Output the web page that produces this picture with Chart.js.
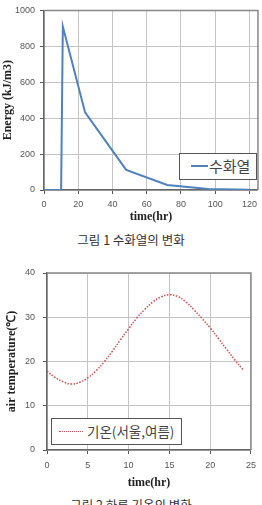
<!DOCTYPE html>
<html>
<head>
<meta charset="utf-8">
<script src="https://cdn.jsdelivr.net/npm/chart.js@4/dist/chart.umd.min.js"></script>
<style>
  body { margin: 0; background: #fff; }
  #page { position: relative; width: 262px; height: 505px; overflow: hidden; }
  canvas { position: absolute; left: 0; }
  .caption { position: absolute; left: 0; width: 262px; text-align: center; font: 12.5px "Noto Sans CJK KR", sans-serif; color: #333; }
  .legend { position: absolute; box-sizing: border-box; border: 1.5px solid #555; background: #fff;
            font-family: "Noto Sans CJK KR", sans-serif; color: #444; }
  .legend span { position: absolute; }
</style>
</head>
<body>
<div id="page">
  <canvas id="heatChart" width="262" height="230" style="top:0"></canvas>
  <div class="caption" style="top:230px">그림 1 수화열의 변화</div>
  <div class="legend" style="left:179px;top:153px;width:78px;height:27px;font-size:15px">
    <span style="left:11px;top:11px;width:17px;border-top:2px solid #4F81BD"></span>
    <span style="left:29px;top:1px;line-height:22px">수화열</span>
  </div>

  <canvas id="tempChart" width="262" height="240" style="top:255px"></canvas>
  <div class="legend" style="left:51px;top:418px;width:131px;height:27px;font-size:13.5px">
    <span style="left:7px;top:12px;width:24px;border-top:1.5px dotted #C0504D"></span>
    <span style="left:35px;top:1px;line-height:22px">기온(서울,여름)</span>
  </div>
  <div class="caption" style="top:495px">그림 2 하루 기온의 변화</div>
</div>
<script>
// 그림 1: 수화열
const heatHours = [0, 10, 11, 24, 48, 72, 96, 120];
const heatEnergy = [0, 0, 910, 432, 112, 28, 6, 1];
const heatTicksX = [0, 20, 40, 60, 80, 100, 120];

// 그림 2: 기온 (서울, 여름)
const tempHours = [0, 1, 2, 3, 4, 5, 6, 7, 8, 9, 10, 11, 12, 13, 14, 15, 16, 17, 18, 19, 20, 21, 22, 23, 24];
const tempValues = [17.8, 16.4, 15.4, 14.9, 15.3, 16.3, 17.9, 19.9, 22.3, 24.9, 27.4, 29.8, 31.8, 33.5, 34.6, 35.1, 34.7, 33.5, 31.7, 29.7, 27.6, 25.2, 22.8, 20.4, 18.2];
const tempTicksX = [0, 5, 10, 15, 20, 25];

const tickFont = { family: 'Liberation Sans', size: 9 };
const titleFont = { family: 'Liberation Serif', size: 12, weight: 'bold' };

// solid grey frame on top and right of the plot area
const framePlugin = {
    id: 'frame',
    afterDraw(chart) {
        const { ctx, chartArea: a } = chart;
        ctx.save();
        ctx.strokeStyle = '#888';
        ctx.lineWidth = 1.5;
        ctx.beginPath();
        ctx.moveTo(a.left, a.top);
        ctx.lineTo(a.right, a.top);
        ctx.lineTo(a.right, a.bottom);
        ctx.stroke();
        ctx.restore();
    }
};

function gridOpts() {
    return {
        color: '#c4c4c4',
        borderDash: [2, 2],
        tickLength: 4,
        tickColor: '#555',
        tickBorderDash: [],
        tickWidth: 1
    };
}

function makeChart(id, opts) {
    const points = opts.xs.map((x, i) => ({ x: x, y: opts.ys[i] }));
    return new Chart(document.getElementById(id), {
        type: 'line',
        data: {
            datasets: [{
                data: points,
                borderColor: opts.color,
                borderWidth: opts.width,
                borderDash: opts.dash,
                pointRadius: 0,
                tension: opts.tension,
                fill: false
            }]
        },
        options: {
            responsive: false,
            animation: false,
            devicePixelRatio: 1,
            layout: { padding: { top: opts.top, right: opts.right, left: 0, bottom: 0 } },
            plugins: { legend: { display: false }, tooltip: { enabled: false } },
            scales: {
                x: {
                    type: 'linear',
                    min: 0,
                    max: opts.xMax,
                    grid: gridOpts(),
                    border: { color: '#666', width: 1.5 },
                    ticks: { font: tickFont, color: '#555', padding: opts.xPad, maxRotation: 0, callback: v => String(v) },
                    afterBuildTicks: (scale) => {
                        scale.ticks = opts.xTicks.map(v => ({ value: v }));
                    },
                    afterFit: (scale) => { scale.height = opts.xHeight; },
                    title: { display: true, text: 'time(hr)', font: titleFont, color: '#222', padding: { top: 0, bottom: opts.xTitlePad } }
                },
                y: {
                    min: 0,
                    max: opts.yMax,
                    grid: gridOpts(),
                    border: { color: '#666', width: 1.5 },
                    ticks: { stepSize: opts.yStep, font: tickFont, color: '#555', padding: opts.yPad, callback: v => String(v) },
                    afterFit: (scale) => { scale.width = opts.yWidth; },
                    title: { display: true, text: opts.yTitle, font: titleFont, color: '#222', padding: { top: opts.yTitlePad, bottom: 0 } }
                }
            }
        },
        plugins: [framePlugin]
    });
}

makeChart('heatChart', {
    xs: heatHours, ys: heatEnergy, color: '#4F81BD', width: 2, dash: [], tension: 0,
    xMax: 125, xTicks: heatTicksX, yMax: 1000, yStep: 200,
    top: 8, right: 2, xHeight: 40, xPad: 5, xTitlePad: 6,
    yWidth: 44, yPad: 5, yTitlePad: 1, yTitle: 'Energy (kJ/m3)'
});

makeChart('tempChart', {
    xs: tempHours, ys: tempValues, color: '#C0504D', width: 1.5, dash: [1.5, 1.5], tension: 0.4,
    xMax: 25, xTicks: tempTicksX, yMax: 40, yStep: 10,
    top: 18, right: 4.5, xHeight: 45, xPad: 6, xTitlePad: 5,
    yWidth: 47, yPad: 8, yTitlePad: 5, yTitle: 'air temperature(℃)'
});
</script>
</body>
</html>
